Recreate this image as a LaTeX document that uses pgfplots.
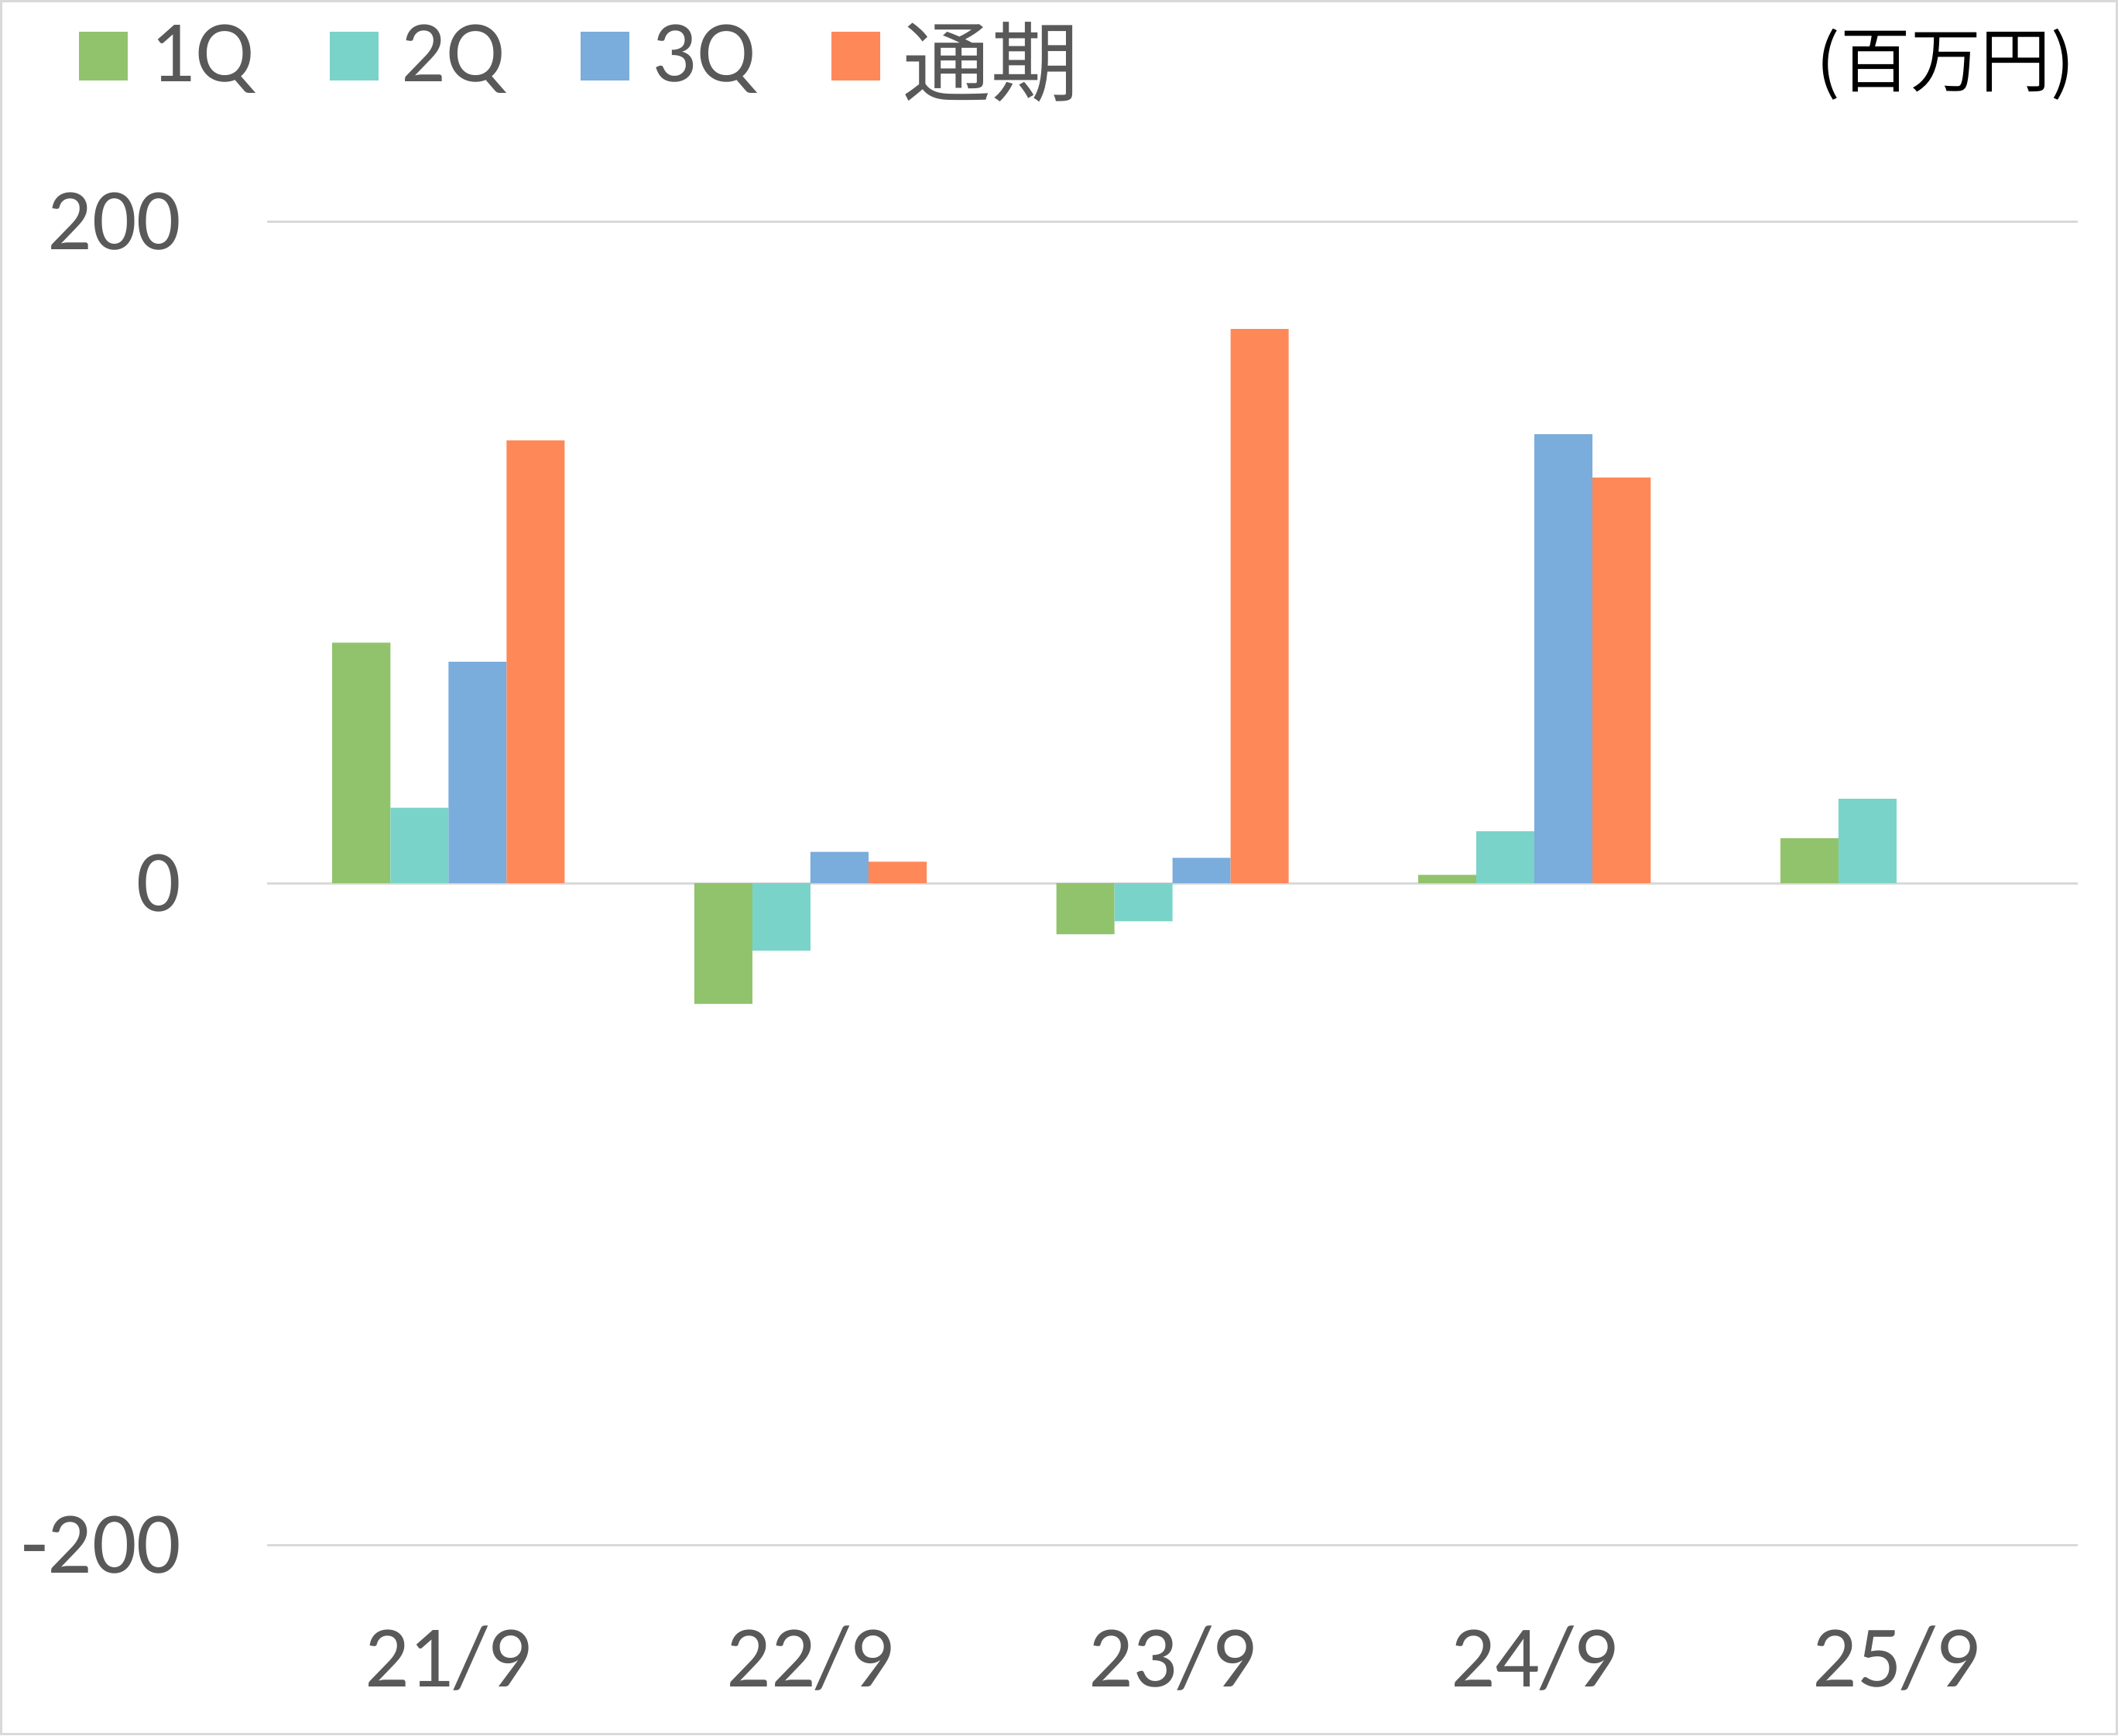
\documentclass[border=0pt]{standalone}
\usepackage{fontspec}
\usepackage{pgfplots}
\pgfplotsset{compat=1.18}
\setmainfont{Carlito}
\newfontfamily\cjk{Noto Sans CJK JP}

\definecolor{c1q}{HTML}{91C36C}
\definecolor{c2q}{HTML}{7AD3C8}
\definecolor{c3q}{HTML}{7AACDC}
\definecolor{cfy}{HTML}{FF8858}
\definecolor{tickgray}{HTML}{595959}
\definecolor{gridgray}{HTML}{D9D9D9}

\pgfplotsset{
  sqlegend/.style={legend image code/.code={\fill[##1] (0pt,-5.4pt) rectangle (10.8pt,5.4pt);}}
}

\begin{document}
\begin{tikzpicture}
\path[use as bounding box] (0,0) rectangle (470.4pt,385.5pt);
\draw[gridgray, line width=0.5pt] (0.25pt,0.25pt) rectangle (470.15pt,385.25pt);

\begin{axis}[
    at={(59.4pt,42.3pt)}, anchor=south west,
    scale only axis,
    width=402pt, height=294pt,
    ybar=0pt, bar width=12.9pt,
    xmin=-0.5, xmax=4.5,
    ymin=-200, ymax=200,
    xtick={0,1,2,3,4},
    xticklabels={21/9,22/9,23/9,24/9,25/9},
    ytick={-200,0,200},
    yticklabels={-200,0,200},
    axis line style={draw=none},
    tick style={draw=none},
    major tick length=0pt,
    ymajorgrids=true,
    grid style={gridgray, line width=0.5pt},
    tick label style={font=\fontsize{19.5}{20}\selectfont, text=tickgray, inner sep=0pt},
    xticklabel style={anchor=base, yshift=-31.6pt},
    yticklabel style={anchor=east, xshift=-18.9pt},
    legend columns=4,
    legend style={
        at={(-0.1045,1.1248)}, anchor=west,
        draw=none, fill=none, inner sep=0pt,
        font=\fontsize{19.5}{20}\selectfont,
        text=tickgray,
        nodes={inner sep=0pt},
        /tikz/every odd column/.append style={column sep=5.1pt},
        /tikz/every even column/.append style={column sep=16.8pt}
    }
]

% 1Q
\addplot[fill=c1q, draw=none, sqlegend]
    coordinates {(0,72.7)(1,-36.5)(2,-15.4)(3,2.5)(4,13.6)};

% 2Q
\addplot[fill=c2q, draw=none, sqlegend]
    coordinates {(0,22.8)(1,-20.4)(2,-11.5)(3,15.7)(4,25.5)};

% 3Q
\addplot[fill=c3q, draw=none, sqlegend]
    coordinates {(0,66.9)(1,9.5)(2,7.7)(3,135.7)};

% full year
\addplot[fill=cfy, draw=none, sqlegend]
    coordinates {(0,133.8)(1,6.5)(2,167.5)(3,122.6)};

\legend{1Q,2Q,3Q,{\raisebox{-2.4pt}{\cjk 通期}}}
\end{axis}

\node[anchor=east, inner sep=0pt, font=\cjk\fontsize{15.6}{16}\selectfont] at (461pt,371.1pt) {(百万円)};
\end{tikzpicture}
\end{document}
